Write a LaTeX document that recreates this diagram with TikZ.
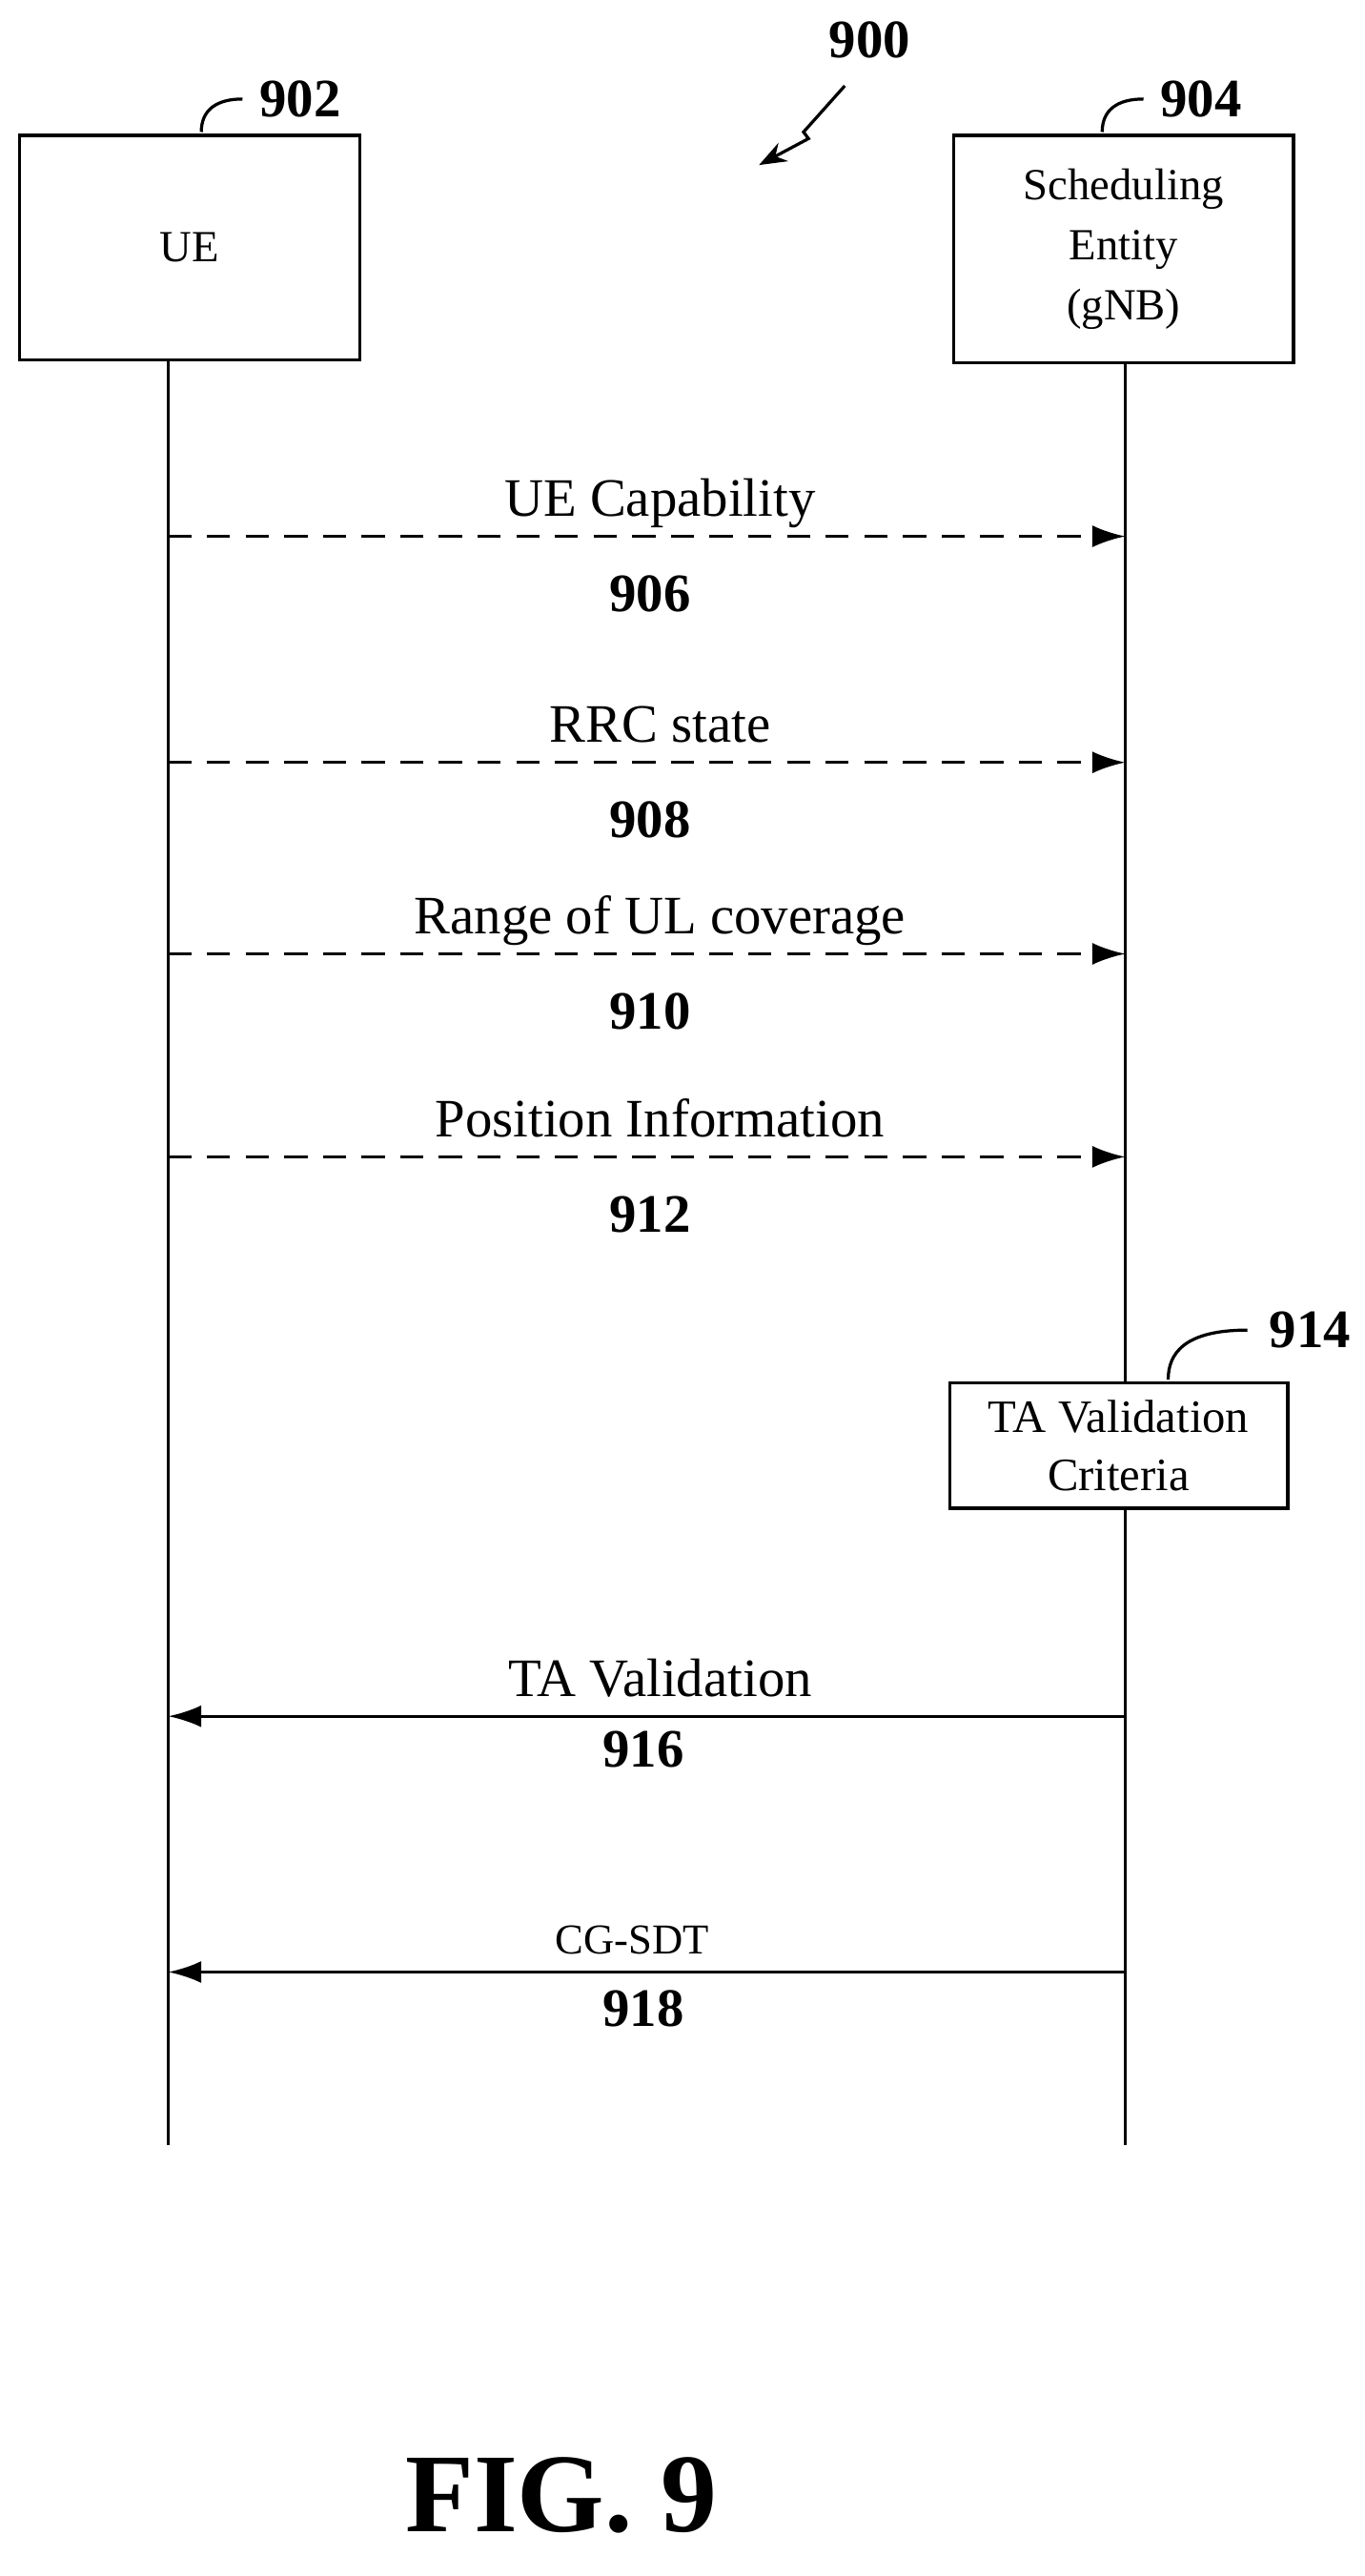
\documentclass[tikz,border=0pt]{standalone}
\usepackage{fontspec}
\setmainfont{Liberation Serif}
\usetikzlibrary{positioning,arrows.meta}

\begin{document}
\begin{tikzpicture}[x=0.03cm, y=-0.03cm, line width=1.6pt,
  msg/.style={font=\fontsize{28}{30}\selectfont},
  num/.style={font=\fontsize{28}{30}\selectfont\bfseries},
  every node/.style={inner sep=0pt}]

\useasboundingbox (0,0) rectangle (827,1561);

\node[draw, minimum width=206*0.03cm, minimum height=136*0.03cm, font=\fontsize{23}{27}\selectfont] (ue) at (115,150) {UE};
\node[draw, minimum width=206*0.03cm, minimum height=138*0.03cm, align=center, font=\fontsize{23}{31}\selectfont] (gnb) at (681,151) {Scheduling\\Entity\\(gNB)};

\coordinate (ueTop) at (102,218);
\coordinate (ueBot) at (102,1300);
\coordinate (gnbTop) at (682,220);
\coordinate (gnbBot) at (682,1300);
\draw (ueTop) -- (ueBot);
\draw (gnbTop) -- (gnbBot);

\node[num] (n902) at (182,60) {902};
\node[num] (n904) at (728,60) {904};
\node[num] (n900) at (527,24) {900};
\draw (122,80) .. controls (122,66) and (132,60) .. (147,60);
\draw (668,80) .. controls (668,66) and (678,60) .. (693,60);
\draw[-{Stealth[length=5mm]}] (512,52) -- (487,80) -- (490,84) -- (460,100);

% uplink messages
\foreach \y/\txt/\n in {325/UE Capability/906, 462/RRC state/908, 578/Range of UL coverage/910, 701/Position Information/912}{
  \coordinate (s\n) at (102,\y);
  \coordinate (e\n) at (682,\y);
  \draw[dashed, dash pattern=on 12pt off 8pt, -{Latex[length=6mm,width=4mm]}] (s\n) -- (e\n);
  \node[msg, anchor=base] at (400,\y-12) {\txt};
  \node[num] at (394,\y+35) {\n};
}

\node[draw, fill=white, minimum width=205*0.03cm, minimum height=76*0.03cm, align=center, inner sep=2pt, font=\fontsize{24}{30}\selectfont] (crit) at (678,876) {TA Validation\\Criteria};
\node[num] (n914) at (794,806) {914};
\draw (708,836) .. controls (708,820) and (718,806) .. (756,806);

% downlink messages
\coordinate (s916) at (682,1040);
\coordinate (e916) at (102,1040);
\draw[-{Latex[length=6mm,width=4mm]}] (s916) -- (e916);
\node[msg, anchor=base] at (400,1028) {TA Validation};
\node[num] at (390,1060) {916};

\coordinate (s918) at (682,1195);
\coordinate (e918) at (102,1195);
\draw[-{Latex[length=6mm,width=4mm]}] (s918) -- (e918);
\node[font=\fontsize{22}{24}\selectfont, anchor=base] at (383,1184) {CG-SDT};
\node[num] at (390,1217) {918};

\node[font=\fontsize{58}{60}\selectfont\bfseries] (fig) at (340,1512) {FIG. 9};
\end{tikzpicture}
\end{document}
